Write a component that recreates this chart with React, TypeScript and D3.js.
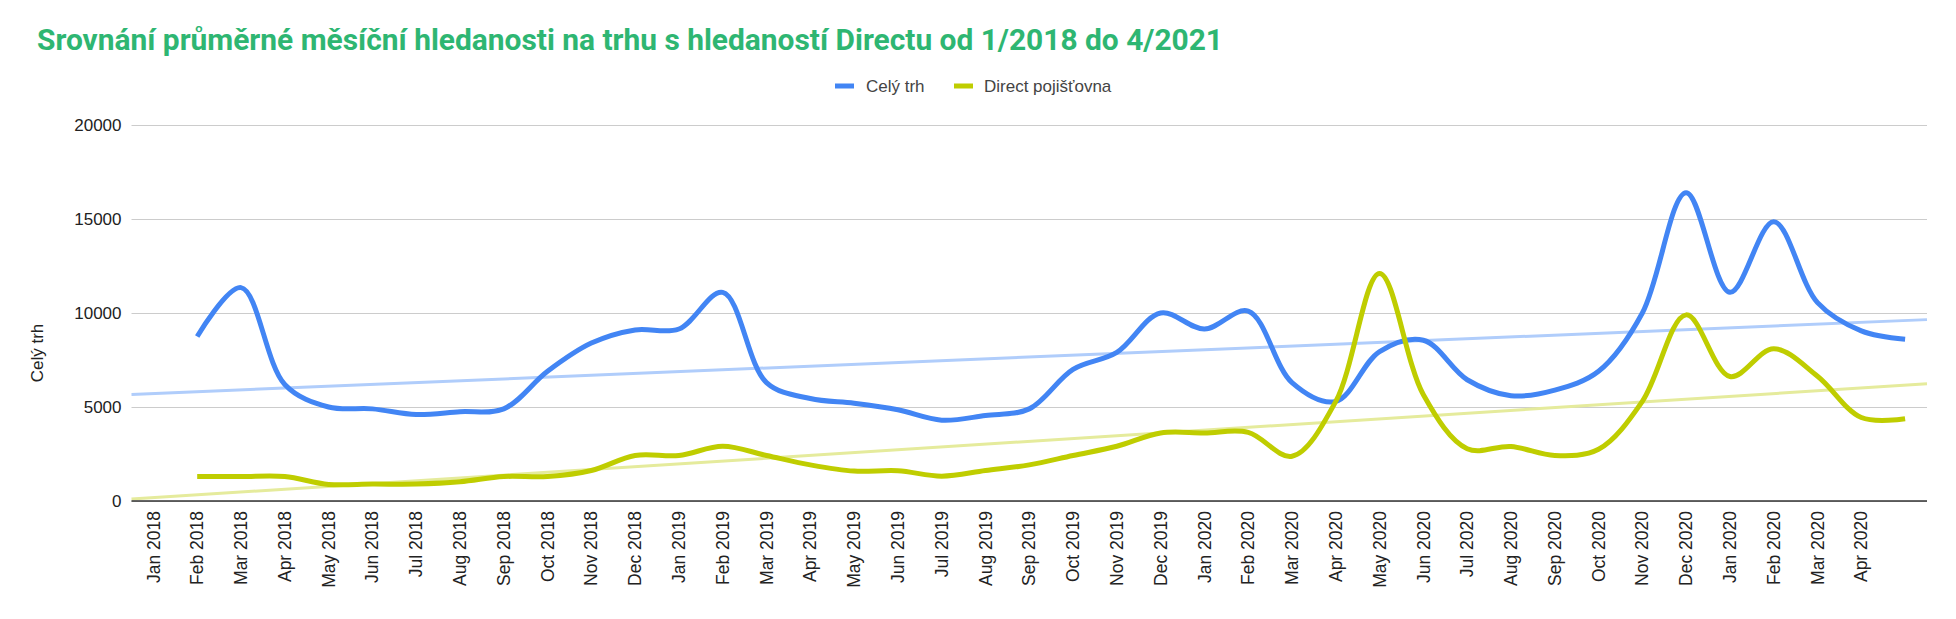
import React from "react";
import * as d3 from "d3";

// categories on the x axis (the sheet repeats 2020 for the 2021 months)
const months = [
  "Jan 2018", "Feb 2018", "Mar 2018", "Apr 2018", "May 2018", "Jun 2018",
  "Jul 2018", "Aug 2018", "Sep 2018", "Oct 2018", "Nov 2018", "Dec 2018",
  "Jan 2019", "Feb 2019", "Mar 2019", "Apr 2019", "May 2019", "Jun 2019",
  "Jul 2019", "Aug 2019", "Sep 2019", "Oct 2019", "Nov 2019", "Dec 2019",
  "Jan 2020", "Feb 2020", "Mar 2020", "Apr 2020", "May 2020", "Jun 2020",
  "Jul 2020", "Aug 2020", "Sep 2020", "Oct 2020", "Nov 2020", "Dec 2020",
  "Jan 2020", "Feb 2020", "Mar 2020", "Apr 2020", "",
];

// Celý trh
const celyTrh: (number | null)[] = [
  null, 8750, 11350, 6200, 5000, 4900, 4600, 4750, 4900, 6900, 8400, 9100,
  9150, 11100, 6300, 5450, 5200, 4850, 4300, 4550, 4900, 7000, 7900, 10000,
  9150, 10100, 6300, 5300, 7950, 8550, 6450, 5600, 5900, 6900, 10000, 16400,
  11100, 14850, 10550, 9050, 8600,
];

// Direct pojišťovna
const direct: (number | null)[] = [
  null, 1300, 1300, 1300, 880, 900, 900, 1020, 1300, 1300, 1620, 2420,
  2420, 2910, 2420, 1920, 1590, 1610, 1320, 1620, 1920, 2420, 2910, 3620,
  3620, 3650, 2380, 5300, 12100, 5650, 2780, 2900, 2420, 2750, 5300, 9900,
  6620, 8100, 6640, 4440, 4370,
];

const yTicks = [0, 5000, 10000, 15000, 20000];

const title =
  "Srovnání průměrné měsíční hledanosti na trhu s hledaností Directu od 1/2018 do 4/2021";

const seriesDefs = [
  { name: "Celý trh", values: celyTrh, color: "#4285f4", trend: "#b0cdfb" },
  { name: "Direct pojišťovna", values: direct, color: "#bfcd00", trend: "#e5eb9c" },
];

const WIDTH = 1956;
const HEIGHT = 619;
const plot = { left: 131.5, right: 1927, top: 125, bottom: 501 };
const font = "'Liberation Sans', Arial, sans-serif";

// least squares fit over the category index
function linearFit(values: (number | null)[]) {
  const pts = values
    .map((v, i) => [i, v] as [number, number | null])
    .filter((p) => p[1] != null) as [number, number][];
  const mx = d3.mean(pts, (p) => p[0])!;
  const my = d3.mean(pts, (p) => p[1])!;
  const sxy = d3.sum(pts, (p) => (p[0] - mx) * (p[1] - my));
  const sxx = d3.sum(pts, (p) => (p[0] - mx) ** 2);
  const slope = sxy / sxx;
  return (x: number) => my + slope * (x - mx);
}

const App: React.FC = () => {
  const svgRef = React.useRef<SVGSVGElement>(null);

  React.useEffect(() => {
    document.body.style.margin = "0";
    const svg = d3.select(svgRef.current);
    svg.selectAll("*").remove();

    svg.append("rect").attr("width", WIDTH).attr("height", HEIGHT).attr("fill", "white");

    // title
    svg
      .append("text")
      .attr("x", 37)
      .attr("y", 50)
      .attr("font-family", "Roboto, sans-serif")
      .attr("font-weight", 700)
      .attr("font-size", 30)
      .attr("textLength", 1186)
      .attr("lengthAdjust", "spacingAndGlyphs")
      .attr("fill", "#2eb672")
      .text(title);

    // legend
    const legendItems = [
      { x: 835, textX: 866 },
      { x: 954, textX: 984 },
    ];
    seriesDefs.forEach((s, i) => {
      svg
        .append("rect")
        .attr("x", legendItems[i].x)
        .attr("y", 83.5)
        .attr("width", 19)
        .attr("height", 5)
        .attr("fill", s.color);
      svg
        .append("text")
        .attr("x", legendItems[i].textX)
        .attr("y", 92)
        .attr("font-family", font)
        .attr("font-size", 17)
        .attr("fill", "#444")
        .text(s.name);
    });

    const x = d3
      .scaleBand<number>()
      .domain(months.map((_, i) => i))
      .range([plot.left, plot.right]);
    const xc = (i: number) => x(i)! + x.bandwidth() / 2;
    const xIdx = d3
      .scaleLinear()
      .domain([-0.5, months.length - 0.5])
      .range([plot.left, plot.right]);

    const y = d3.scaleLinear().domain([0, 20000]).range([plot.bottom, plot.top]);

    // gridlines + y labels
    const yAxis = d3
      .axisLeft(y)
      .tickValues(yTicks)
      .tickSize(-(plot.right - plot.left))
      .tickPadding(10)
      .tickFormat((d) => String(d));
    const yG = svg
      .append("g")
      .attr("transform", `translate(${plot.left},0)`)
      .call(yAxis);
    yG.select(".domain").remove();
    yG.selectAll(".tick line").attr("stroke", "#cccccc").attr("stroke-width", 1);
    yG.selectAll(".tick text")
      .attr("font-family", font)
      .attr("font-size", 17)
      .attr("fill", "#222");

    // y axis title
    svg
      .append("text")
      .attr("transform", `translate(37,353) rotate(-90)`)
      .attr("text-anchor", "middle")
      .attr("dy", "0.35em")
      .attr("font-family", font)
      .attr("font-size", 17)
      .attr("fill", "#222")
      .text("Celý trh");

    // trend lines
    seriesDefs.forEach((s) => {
      const fit = linearFit(s.values);
      const ends = [-0.5, months.length - 0.5];
      svg
        .append("path")
        .attr(
          "d",
          d3
            .line<number>()
            .x((d) => xIdx(d))
            .y((d) => y(fit(d)))(ends)
        )
        .attr("fill", "none")
        .attr("stroke", s.trend)
        .attr("stroke-width", 3);
    });

    // baseline
    svg
      .append("line")
      .attr("x1", plot.left)
      .attr("x2", plot.right)
      .attr("y1", y(0))
      .attr("y2", y(0))
      .attr("stroke", "#333")
      .attr("stroke-width", 1.5);

    // series lines
    const lineDef = d3
      .line<number | null>()
      .defined((d) => d != null)
      .x((_, i) => xc(i))
      .y((d) => y(d as number))
      .curve(d3.curveCatmullRom.alpha(0.5));

    seriesDefs.forEach((s) => {
      svg
        .append("path")
        .attr("d", lineDef(s.values))
        .attr("fill", "none")
        .attr("stroke", s.color)
        .attr("stroke-width", 5)
        .attr("stroke-linejoin", "round");
    });

    // x labels
    svg
      .append("g")
      .selectAll("text")
      .data(months)
      .join("text")
      .attr("transform", (_, i) => `translate(${xc(i)},511) rotate(-90)`)
      .attr("text-anchor", "end")
      .attr("dy", "0.35em")
      .attr("font-family", font)
      .attr("font-size", 17.5)
      .attr("fill", "#222")
      .text((d) => d);
  }, []);

  return (
    <svg
      ref={svgRef}
      width={WIDTH}
      height={HEIGHT}
      style={{ display: "block", position: "absolute", left: 0, top: 0 }}
    />
  );
};

export default App;
